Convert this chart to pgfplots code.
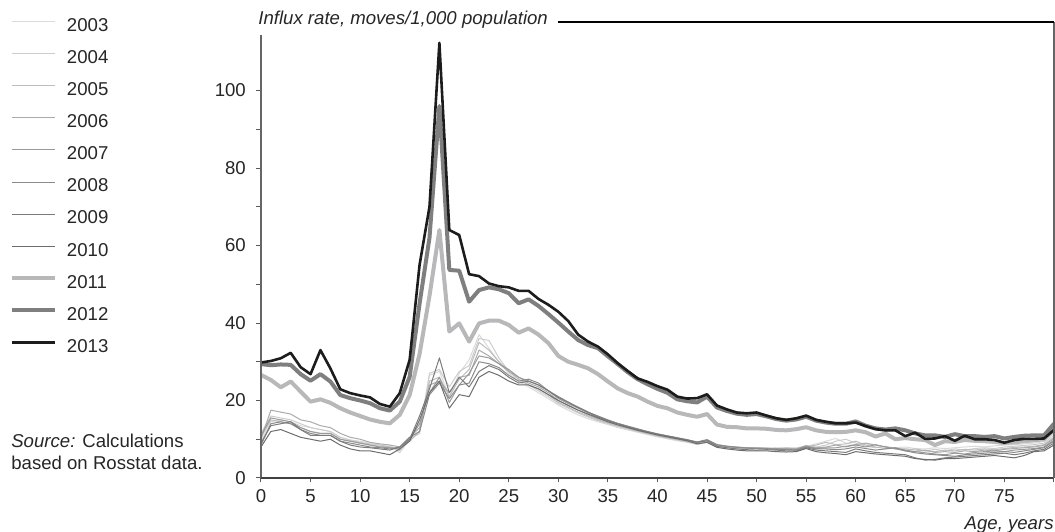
\documentclass[border=0pt]{standalone}
\usepackage{fontspec}
\setmainfont{Liberation Sans}
\usepackage{pgfplots}
\pgfplotsset{compat=1.18}
\usepackage{pgfplotstable}
\definecolor{c03}{HTML}{DADADA}
\definecolor{c04}{HTML}{CCCCCC}
\definecolor{c05}{HTML}{BDBDBD}
\definecolor{c06}{HTML}{ABABAB}
\definecolor{c07}{HTML}{9A9A9A}
\definecolor{c08}{HTML}{8A8A8A}
\definecolor{c09}{HTML}{7B7B7B}
\definecolor{c10}{HTML}{6D6D6D}
\definecolor{c11}{HTML}{B8B8BB}
\definecolor{c12}{HTML}{7F7F7F}
\definecolor{c13}{HTML}{1C1C1C}
\pgfplotstableread{
a t03 t04 t05 t06 t07 t08 t09 t10 t11 t12 t13
0 9.5 11.5 10.5 10.0 11.0 8.5 9.0 8.0 26.6 29.4 29.8
1 14.5 16.0 15.0 17.5 15.5 14.0 13.5 12.0 25.3 29.1 30.2
2 15.0 15.5 14.5 17.0 15.0 14.5 14.0 12.5 23.4 29.3 30.9
3 14.5 15.0 14.0 16.5 14.5 14.0 14.5 11.5 24.9 29.2 32.3
4 13.5 14.0 13.0 15.0 13.0 12.5 12.5 10.5 22.3 26.8 28.6
5 13.0 13.0 12.0 14.5 12.0 11.5 11.0 10.0 19.7 25.1 26.8
6 12.5 12.5 11.5 13.5 11.5 11.0 11.0 9.5 20.3 26.8 33.0
7 12.0 12.0 11.5 13.0 11.5 11.0 11.0 10.0 19.4 24.9 28.3
8 10.5 10.5 10.0 11.5 10.0 9.5 9.5 8.5 18.0 21.4 22.9
9 9.8 9.8 9.5 10.5 9.5 9.0 8.5 7.5 16.9 20.6 21.9
10 9.5 9.2 9.0 10.0 9.0 8.5 8.0 7.0 16.0 20.0 21.3
11 9.0 8.8 8.5 9.2 8.5 8.0 7.8 7.0 15.1 19.3 20.8
12 8.5 8.5 8.2 8.8 8.0 7.8 7.5 6.5 14.5 18.0 19.1
13 8.5 8.0 8.0 8.5 7.8 7.5 7.2 6.0 14.1 17.4 18.4
14 6.5 7.0 7.5 8.0 7.5 8.0 8.0 7.5 16.3 19.7 21.9
15 10.0 10.0 9.5 10.5 10.0 10.5 10.0 9.5 21.4 26.1 30.5
16 12.0 11.5 12.0 13.0 14.0 12.0 16.0 15.0 32.0 45.0 55.0
17 26.5 27.0 25.0 24.0 22.0 21.5 23.0 22.0 47.0 62.0 70.0
18 27.5 28.0 26.0 25.0 26.0 24.5 31.0 25.0 64.0 96.0 112.3
19 21.0 23.5 21.0 22.0 19.5 20.5 22.0 18.0 37.8 53.7 64.0
20 27.0 27.5 25.5 26.0 24.0 24.0 26.0 21.5 39.9 53.5 62.7
21 30.5 29.0 28.0 26.5 27.0 24.5 23.5 21.0 35.2 45.5 52.6
22 37.0 36.0 35.0 33.0 31.5 30.0 27.5 26.0 39.9 48.5 52.1
23 33.5 35.5 33.0 31.5 31.0 29.5 29.0 27.5 40.6 49.2 50.2
24 30.0 31.0 30.0 29.5 29.5 28.5 28.0 26.5 40.6 48.7 49.5
25 27.0 27.5 27.5 27.5 28.0 26.5 26.0 25.0 39.5 47.7 49.2
26 25.0 25.5 25.5 26.0 26.0 25.0 24.5 24.0 37.5 45.1 48.3
27 23.5 24.0 24.0 24.5 25.0 25.5 25.0 24.0 38.6 46.1 48.3
28 22.0 22.5 23.0 23.5 24.0 24.5 24.0 23.0 37.0 44.4 46.2
29 20.5 21.0 21.5 22.0 22.5 22.5 22.5 21.5 34.8 42.3 44.7
30 18.8 19.2 19.5 20.0 20.5 21.0 20.8 20.0 31.5 40.1 42.9
31 17.5 18.0 18.3 18.8 19.2 19.6 19.5 18.7 30.0 37.8 40.5
32 16.3 16.8 17.0 17.5 18.0 18.3 18.2 17.5 29.2 35.6 37.0
33 15.3 15.7 16.0 16.3 16.8 17.0 17.0 16.5 28.3 34.3 35.2
34 14.5 14.8 15.0 15.3 15.7 16.0 15.8 15.5 26.8 33.5 33.9
35 13.8 14.0 14.2 14.5 14.8 15.0 14.8 14.5 24.9 31.4 31.9
36 13.0 13.3 13.4 13.7 14.0 14.1 14.0 13.7 23.1 29.4 29.6
37 12.4 12.6 12.8 13.0 13.2 13.4 13.2 13.0 21.9 27.3 27.6
38 11.8 12.0 12.1 12.3 12.5 12.7 12.5 12.3 21.0 25.5 25.7
39 11.2 11.4 11.5 11.7 11.9 12.0 11.9 11.7 19.7 24.2 24.8
40 10.6 10.8 10.9 11.1 11.3 11.4 11.3 11.1 18.6 23.0 23.7
41 10.1 10.3 10.4 10.6 10.8 10.9 10.8 10.6 18.0 22.0 22.8
42 9.6 9.8 9.9 10.1 10.3 10.4 10.3 10.1 16.9 20.3 21.0
43 9.2 9.3 9.4 9.6 9.8 9.9 9.8 9.6 16.3 19.8 20.5
44 8.6 8.8 8.9 9.1 9.2 9.3 9.2 8.8 15.8 19.5 20.6
45 9.2 9.3 9.4 9.6 9.8 9.9 9.6 9.2 16.5 21.0 21.6
46 8.0 8.2 8.3 8.4 8.6 8.6 8.2 7.9 13.8 18.2 18.7
47 7.8 7.9 8.0 8.1 8.2 8.2 7.8 7.5 13.2 17.3 17.7
48 7.6 7.7 7.8 7.9 8.0 7.9 7.5 7.2 13.1 16.6 16.9
49 7.5 7.6 7.7 7.8 7.8 7.7 7.3 7.0 12.8 16.3 16.7
50 7.6 7.8 7.7 7.8 7.7 7.6 7.2 7.0 12.8 16.5 16.9
51 7.8 7.6 7.6 7.7 7.6 7.5 7.3 7.0 12.7 15.9 16.1
52 7.5 7.8 7.5 7.6 7.5 7.4 7.2 6.8 12.4 15.2 15.4
53 7.6 7.7 7.8 7.6 7.4 7.3 7.0 6.7 12.3 14.8 15.0
54 7.8 7.6 7.6 7.5 7.4 7.2 7.0 6.8 12.6 15.1 15.4
55 8.2 8.4 8.0 8.1 8.3 8.0 7.8 7.6 13.1 15.8 16.1
56 8.8 8.0 8.5 7.8 7.6 7.5 7.2 6.8 12.3 14.8 15.0
57 9.5 8.5 9.2 8.0 7.8 7.5 7.0 6.5 11.9 14.3 14.5
58 10.2 9.5 8.6 8.5 7.8 7.3 6.8 6.3 11.8 14.0 14.1
59 9.0 10.0 8.8 8.0 8.2 7.5 6.6 6.0 11.9 14.0 14.1
60 8.5 9.0 9.5 8.6 8.5 8.0 7.5 6.8 12.3 14.6 14.3
61 8.8 8.2 8.5 9.0 8.0 7.6 7.0 6.5 11.8 13.5 13.4
62 8.5 7.8 8.0 8.5 8.6 7.2 6.6 6.2 10.7 12.8 12.6
63 8.0 8.2 7.6 8.0 8.0 7.5 6.4 6.0 11.5 12.5 12.3
64 7.8 7.5 7.8 7.5 7.6 7.8 6.2 5.8 10.0 12.8 12.3
65 8.0 7.6 7.2 7.0 7.2 7.0 6.0 5.6 10.3 12.3 10.8
66 7.6 7.2 7.5 6.8 6.8 6.5 5.2 5.0 10.0 11.5 11.7
67 7.5 7.0 7.0 7.2 6.5 6.2 4.6 4.8 9.8 11.0 10.1
68 7.8 7.4 6.8 6.6 6.2 6.0 4.8 4.6 8.5 11.0 10.2
69 7.6 7.0 7.2 6.8 6.0 5.8 5.2 5.0 9.5 10.6 10.8
70 7.8 7.5 7.0 6.6 6.4 5.6 5.4 5.0 9.3 11.3 9.6
71 8.0 7.2 7.4 7.0 6.2 6.0 5.6 5.2 9.8 10.8 10.9
72 8.2 7.6 7.2 6.8 6.6 6.2 5.8 5.4 9.6 10.8 10.0
73 8.0 7.8 7.5 7.2 6.8 6.4 6.0 5.6 9.5 10.6 10.0
74 8.3 7.6 7.3 7.0 7.0 6.6 6.2 5.8 9.3 10.8 9.8
75 8.5 8.0 7.6 7.4 6.8 6.8 6.4 5.5 9.0 10.2 9.1
76 8.6 8.2 7.9 7.6 7.2 6.6 6.0 5.2 9.2 10.6 9.8
77 8.8 8.4 8.0 7.8 7.4 7.0 6.4 5.8 9.5 10.9 10.1
78 9.0 8.6 8.2 8.0 7.6 7.4 7.0 6.8 9.7 11.0 10.1
79 9.4 9.0 8.6 8.4 8.0 7.8 7.4 7.0 10.0 11.0 10.2
80 11.5 11.0 10.5 10.2 9.8 9.5 9.0 8.5 12.5 14.0 12.4
}\data
\begin{document}
\begin{tikzpicture}
\begin{axis}[
  scale only axis, width=396.5pt, height=228pt,
  xmin=0, xmax=80, ymin=0, ymax=117.7,
  axis line style={draw=none},
  clip mode=individual,
  xtick={0,5,...,80},
  xticklabels={0,5,10,15,20,25,30,35,40,45,50,55,60,65,70,75,{}},
  ytick={0,20,...,100},
  minor ytick={10,30,...,90},
  tick pos=left,
  tick align=outside,
  major tick length=2.25pt, minor tick length=2.25pt,
  tick style={color=black!65, line width=0.5pt},
  ticklabel style={font=\fontsize{9.3}{11}\selectfont, text=black!85},
  yticklabel style={xshift=-1.8pt},
  /pgf/number format/assume math mode=true,
  legend style={at={(-0.3165,1.0081)}, anchor=north west, draw=none, fill=none,
    inner sep=0pt, outer sep=0pt, row sep=8.06pt, column sep=5pt,
    font=\fontsize{9.3}{11}\selectfont,
    nodes={inner sep=0pt, text=black!85}},
  legend cell align=left,
  legend image code/.code={\draw[#1] (0pt,2.4pt) -- (21.5pt,2.4pt);},
  every axis plot/.append style={line join=round},
]
\addplot[no marks, c03, line width=0.5pt] table[x=a, y=t03] {\data};
\addlegendentry{2003}
\addplot[no marks, c04, line width=0.5pt] table[x=a, y=t04] {\data};
\addlegendentry{2004}
\addplot[no marks, c05, line width=0.5pt] table[x=a, y=t05] {\data};
\addlegendentry{2005}
\addplot[no marks, c06, line width=0.5pt] table[x=a, y=t06] {\data};
\addlegendentry{2006}
\addplot[no marks, c07, line width=0.5pt] table[x=a, y=t07] {\data};
\addlegendentry{2007}
\addplot[no marks, c08, line width=0.5pt] table[x=a, y=t08] {\data};
\addlegendentry{2008}
\addplot[no marks, c09, line width=0.5pt] table[x=a, y=t09] {\data};
\addlegendentry{2009}
\addplot[no marks, c10, line width=0.5pt] table[x=a, y=t10] {\data};
\addlegendentry{2010}
\addplot[no marks, c11, line width=2pt] table[x=a, y=t11] {\data};
\addlegendentry{2011}
\addplot[no marks, c12, line width=2pt] table[x=a, y=t12] {\data};
\addlegendentry{2012}
\addplot[no marks, c13, line width=1.3pt] table[x=a, y=t13] {\data};
\addlegendentry{2013}
% axis frame
\draw[black!60, line width=0.6pt] (rel axis cs:0,0) -- (rel axis cs:0,0.9715);
\draw[black!75, line width=0.6pt] (rel axis cs:0,0) -- (rel axis cs:1,0);
\draw[black!60, line width=0.8pt] (rel axis cs:1,0) -- (rel axis cs:1,1);
\draw[black, line width=0.6pt] (rel axis cs:0.3745,1) -- (rel axis cs:1,1);
\node[anchor=base west, inner sep=0pt, font=\fontsize{9.3}{11}\selectfont\itshape, text=black!85]
  at (rel axis cs:-0.0038,0.9934) {Influx rate, moves/1,000 population};
\node[anchor=base east, inner sep=0pt, font=\fontsize{9.3}{11}\selectfont\itshape, text=black!85]
  at (rel axis cs:1,-0.114) {Age, years};
\node[anchor=base west, inner sep=0pt, font=\fontsize{9.3}{11}\selectfont, text=black!85]
  at (rel axis cs:-0.3153,0.0664) {\textit{Source:} Calculations};
\node[anchor=base west, inner sep=0pt, font=\fontsize{9.3}{11}\selectfont, text=black!85]
  at (rel axis cs:-0.3153,0.0182) {based on Rosstat data.};
\coordinate (BL) at (rel axis cs:-0.3291,-0.1184);
\coordinate (TR) at (rel axis cs:1.0013,1.0482);
\end{axis}
\pgfresetboundingbox
\path (BL) rectangle (TR);
\end{tikzpicture}
\end{document}
